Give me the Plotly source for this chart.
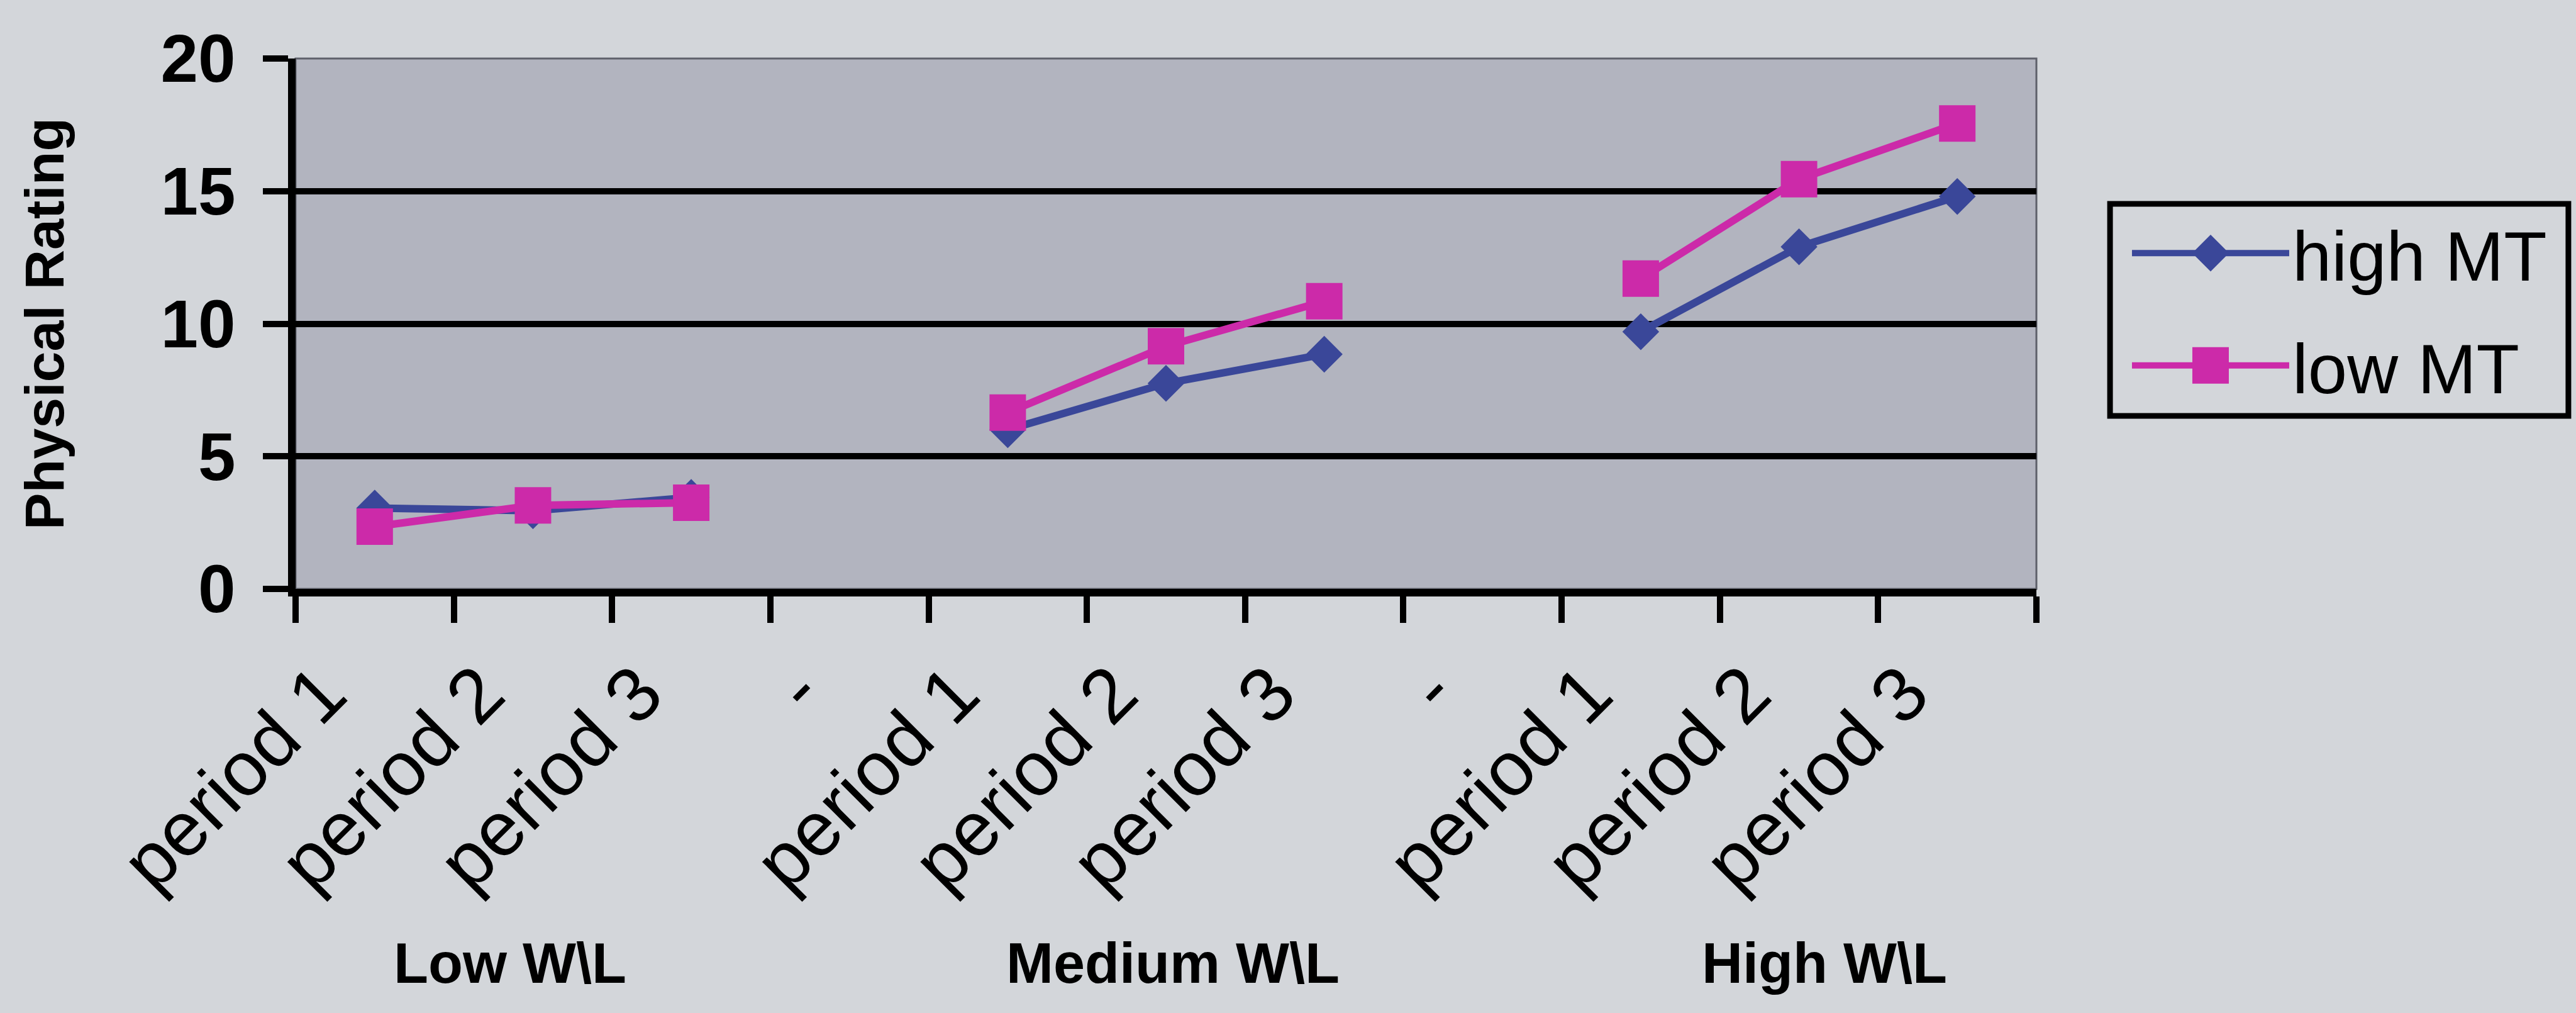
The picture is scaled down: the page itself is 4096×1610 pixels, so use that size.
import plotly.graph_objects as go

# ---------------- data ----------------
categories = ["period 1", "period 2", "period 3", "-",
              "period 1", "period 2", "period 3", "-",
              "period 1", "period 2", "period 3"]
high_mt = [3.05, 2.95, 3.45, None, 6.0, 7.75, 8.85, None, 9.7, 12.9, 14.8]
low_mt = [2.35, 3.15, 3.25, None, 6.65, 9.15, 10.85, None, 11.7, 15.45, 17.55]
series_names = ["high MT", "low MT"]
group_labels = ["Low W\\L", "Medium W\\L", "High W\\L"]
y_ticks = [0, 5, 10, 15, 20]
y_title = "Physical Rating"

# ---------------- style ----------------
FONT = "Liberation Sans, Arial, sans-serif"
BLUE = "#3a4799"
MAGENTA = "#cc2aa9"
PAPER = "#d3d6da"
PLOT = "#b2b4bf"

x_idx = list(range(len(categories)))
group_x = [0.855, 5.045, 9.16]   # label centres along the category axis

DIAMOND_SIZE = 45
SQUARE_SIZE = 58
LINE_W = 12

fig = go.Figure()
fig.add_trace(go.Scatter(
    x=x_idx, y=high_mt, name=series_names[0], mode="lines+markers",
    line=dict(color=BLUE, width=LINE_W),
    marker=dict(symbol="diamond", size=DIAMOND_SIZE, color=BLUE),
    connectgaps=False, legendgroup="a"))
fig.add_trace(go.Scatter(
    x=x_idx, y=low_mt, name=series_names[1], mode="lines+markers",
    line=dict(color=MAGENTA, width=LINE_W),
    marker=dict(symbol="square", size=SQUARE_SIZE, color=MAGENTA),
    connectgaps=False, legendgroup="b"))

for gx, txt in zip(group_x, group_labels):
    fig.add_annotation(x=gx, xref="x", y=-0.706, yref="paper", text=txt,
                       showarrow=False, xanchor="center", yanchor="middle",
                       font=dict(size=90, weight="bold", family=FONT, color="black"))

# thin border of plot area (top / right)
fig.add_shape(type="rect", xref="paper", yref="paper", x0=0, x1=1, y0=0, y1=1,
              line=dict(color="#5e606a", width=3), layer="below")
# legend frame
fig.add_shape(type="rect", xref="paper", yref="paper",
              x0=1.0423, x1=1.3056, y0=0.3262, y1=0.7260,
              line=dict(color="black", width=9), fillcolor="rgba(0,0,0,0)",
              layer="above")

fig.update_layout(
    width=4096, height=1610,
    margin=dict(l=470, r=858, t=93, b=674, pad=0),
    paper_bgcolor=PAPER, plot_bgcolor=PLOT,
    font=dict(family=FONT, color="black"),
    showlegend=True,
    legend=dict(x=1.0531, y=0.7272, xanchor="left", yanchor="top",
                bgcolor="rgba(0,0,0,0)", borderwidth=0,
                font=dict(size=112, family=FONT, color="black"),
                itemwidth=250, tracegroupgap=30),
    xaxis=dict(range=[-0.5, 10.5], tickmode="array", tickvals=x_idx,
               ticktext=categories, ticks="", tickangle=-45,
               tickfont=dict(size=122, family=FONT, color="black"),
               ticklabelshift=-82, ticklabelstandoff=33,
               showgrid=False, zeroline=False, showline=True,
               linecolor="black", linewidth=12,
               minor=dict(tickmode="array",
                          tickvals=[i - 0.5 for i in range(len(categories) + 1)],
                          ticks="outside", ticklen=42, tickwidth=10,
                          tickcolor="black", showgrid=False)),
    yaxis=dict(range=[0, 20], tickmode="array", tickvals=y_ticks,
               ticks="outside", ticklen=40, tickwidth=10, tickcolor="black",
               tickfont=dict(size=107, weight="bold", family=FONT, color="black"),
               ticklabelstandoff=22,
               showgrid=False, zeroline=False, showline=True,
               linecolor="black", linewidth=12,
               minor=dict(tickmode="array", tickvals=[5, 10, 15], showgrid=True,
                          gridcolor="black", gridwidth=10, ticks=""),
               title=dict(text=y_title, standoff=130,
                          font=dict(size=88, weight="bold", family=FONT, color="black"))),
)

scales = [DIAMOND_SIZE / 16.0, SQUARE_SIZE / 16.0]
post = """
(function(){
var S = %s;
function fix(){
  var gd = document.getElementById('{plot_id}');
  if(!gd) return;
  gd.querySelectorAll('.legend .traces').forEach(function(t, i){
    t.querySelectorAll('path.scatterpts').forEach(function(p){
      if(p.dataset.t0 === undefined){ p.dataset.t0 = p.getAttribute('transform') || ''; }
      p.setAttribute('transform', p.dataset.t0 + ' scale(' + S[i] + ')');
    });
    t.querySelectorAll('.legendlines path').forEach(function(p){
      p.style.setProperty('stroke-width', '%dpx', 'important');
    });
  });
}
var gd0 = document.getElementById('{plot_id}');
fix();
if(gd0 && gd0.on){ gd0.on('plotly_afterplot', fix); }
setTimeout(fix, 50);
})();
""" % (str(scales), 10)

fig.write_html("out.html", post_script=post)
